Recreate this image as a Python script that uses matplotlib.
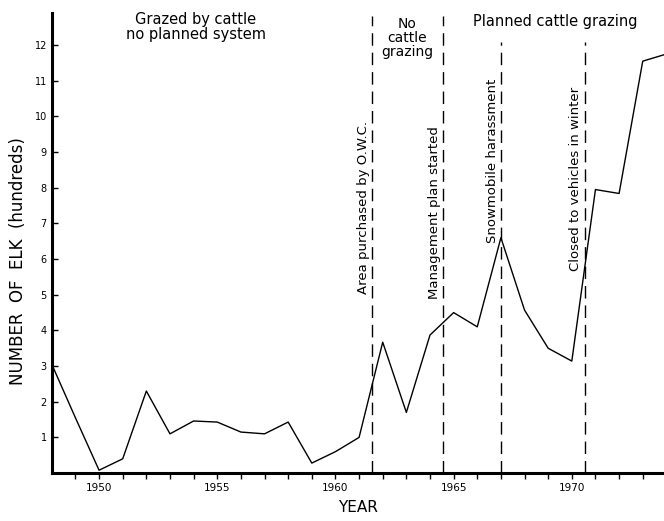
import numpy as np
import matplotlib
matplotlib.use("Agg")
import matplotlib.pyplot as plt

# elk counts, hundreds
years = [1948, 1949, 1950, 1951, 1952, 1953, 1954, 1955, 1956, 1957, 1958,
         1959, 1960, 1961, 1962, 1963, 1964, 1965, 1966, 1967, 1968, 1969,
         1970, 1971, 1972, 1973, 1974]
elk = [3.05, 1.55, 0.08, 0.4, 2.3, 1.1, 1.46, 1.43, 1.15, 1.1, 1.43,
       0.28, 0.6, 1.0, 3.67, 1.7, 3.87, 4.5, 4.1, 6.6, 4.57, 3.5,
       3.14, 7.95, 7.84, 11.55, 11.75]

# events (dashed lines)
ev_x = [1961.55, 1964.55, 1967.0, 1970.55]
ev_top = [12.83, 12.83, 12.1, 12.1]
ev_text = ["Area purchased by O.W.C.", "Management plan started",
           "Snowmobile harassment", "Closed to vehicles in winter"]
ev_ymid = [7.45, 7.3, 8.75, 8.25]

periods = ["Grazed by cattle\nno planned system", "No\ncattle\ngrazing",
           "Planned cattle grazing"]
period_x = [1954.1, 1963.05, 1969.3]
period_y = [12.5, 12.2, 12.65]

fig = plt.figure(figsize=(6.64, 5.21), dpi=100)
ax = fig.add_axes([0.078, 0.092, 0.922, 0.883])

ax.plot(years, elk, color="black", lw=1.0)

for x, top in zip(ev_x, ev_top):
    ax.plot([x, x], [0, top], color="black", lw=1.0, dashes=(9, 5))
for x, t, ym in zip(ev_x, ev_text, ev_ymid):
    ax.text(x - 0.1, ym, t, rotation=90, ha="right", va="center", fontsize=9.5)

for x, y, t in zip(period_x, period_y, periods):
    fs = 10 if t.startswith("No") else 10.5
    ax.text(x, y, t, ha="center", va="center", fontsize=fs, linespacing=1.0)

ax.set_xlim(1948, 1973.9)
ax.set_ylim(0, 12.9)
ax.set_xticks([1950, 1955, 1960, 1965, 1970])
ax.set_xticks(np.arange(1949, 1974), minor=True)
ax.set_yticks(np.arange(1, 13))
ax.tick_params(axis="x", direction="out", length=4, labelsize=7.5, width=1)
ax.tick_params(axis="x", which="minor", direction="out", length=4, width=1)
ax.tick_params(axis="y", direction="in", length=4, labelsize=7, width=1)

for s in ["top", "right"]:
    ax.spines[s].set_visible(False)
ax.spines["left"].set_linewidth(2.2)
ax.spines["bottom"].set_linewidth(2.2)

ax.set_xlabel("YEAR", fontsize=11, labelpad=5)
ax.set_ylabel("NUMBER  OF  ELK  (hundreds)", fontsize=12)
ax.yaxis.set_label_coords(-0.04, 0.46)

fig.savefig("out.png", dpi=100)
